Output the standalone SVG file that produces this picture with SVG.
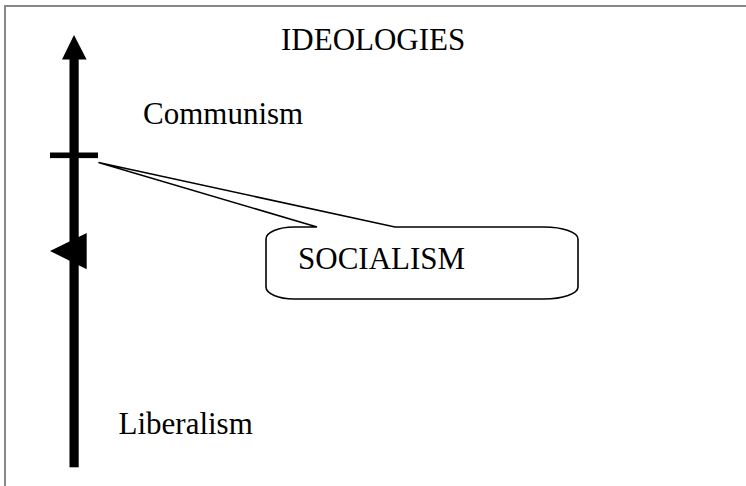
<svg xmlns="http://www.w3.org/2000/svg" width="746" height="486" viewBox="0 0 746 486">
  <style>
    .lbl { font-family: "Liberation Serif", "Times New Roman", serif; font-size: 31px; fill: #000; }
    .frame { fill: none; stroke: #888; stroke-width: 2; }
    .bar { fill: #000; }
    .callout { fill: #fff; stroke: #000; stroke-width: 1.6; stroke-linejoin: miter; }
  </style>
  <rect class="frame" x="5" y="6" width="780" height="520"/>
  <g id="title">
    <text class="lbl" x="281" y="50">IDEOLOGIES</text>
  </g>
  <g id="connectors">
    <g id="axis">
      <rect class="bar" x="69.5" y="58" width="9.2" height="409.3"/>
      <polygon class="bar" points="74,35 62,59.5 86.6,59.5"/>
      <rect class="bar" x="50" y="152.5" width="48" height="5.6"/>
      <polygon class="bar" points="50,251 86.7,233 86.7,269.3"/>
    </g>
  </g>
  <g id="communism">
    <text class="lbl" x="143" y="123.5">Communism</text>
  </g>
  <g id="socialism">
    <path class="callout" d="M 266,239 A 28,12 0 0 1 294,227 L 317,227 L 98.5,162.5 L 395,227 L 544,227 A 34,12 0 0 1 578,239 L 578,287 A 34,12 0 0 1 544,299 L 294,299 A 28,12 0 0 1 266,287 Z"/>
    <text class="lbl" x="298" y="268.5">SOCIALISM</text>
  </g>
  <g id="liberalism">
    <text class="lbl" x="118.5" y="434">Liberalism</text>
  </g>
</svg>
